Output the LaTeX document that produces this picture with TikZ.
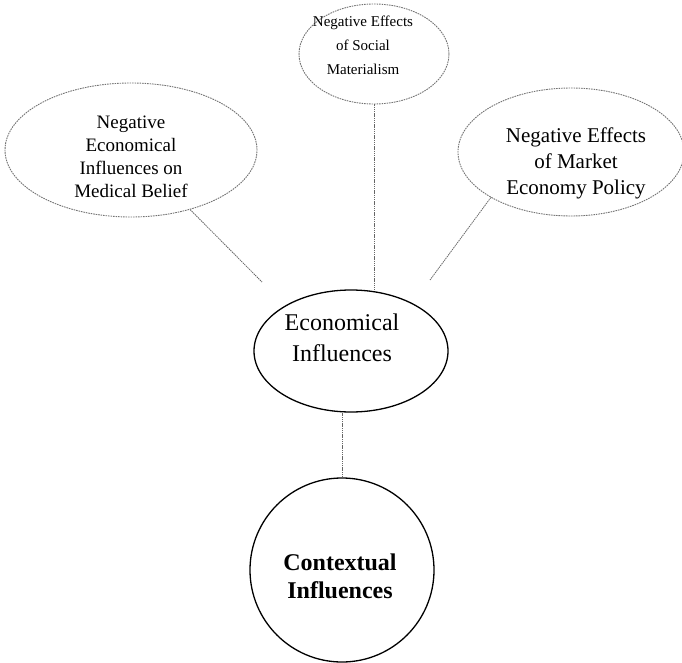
\documentclass[tikz,border=0pt]{standalone}
\usepackage{fontspec}
\setmainfont{Liberation Serif}
\usetikzlibrary{shapes.geometric}

\tikzset{
  x=1pt, y=-1pt,
  softoval/.style={ellipse, draw=black!55, line width=0.9pt,
    dash pattern=on 1.6pt off 0.9pt, inner sep=0pt},
  firmoval/.style={ellipse, draw=black, line width=1.3pt, inner sep=0pt},
  firmcircle/.style={circle, draw=black, line width=1.3pt, inner sep=0pt},
  label text/.style={align=center, inner sep=0pt, text=black},
  link/.style={draw=black!60, line width=0.8pt, dash pattern=on 1.4pt off 0.8pt},
}

\begin{document}
\begin{tikzpicture}
  \useasboundingbox (0,0) rectangle (682,663);

  % outer ring of influences
  \node[softoval, minimum width=252pt, minimum height=134pt] (medical) at (131,150) {};
  \node[softoval, minimum width=150pt, minimum height=100pt] (social) at (374,54) {};
  \node[softoval, minimum width=226pt, minimum height=128pt] (market) at (571,152) {};

  % central economical node and the contextual root
  \node[firmoval, minimum width=194pt, minimum height=122pt] (econ) at (351,351) {};
  \node[firmcircle, minimum size=184pt] (context) at (342,570) {};

  % labels
  \node[label text, font=\fontsize{19}{23}\selectfont] (medicalT) at (131,157)
    {Negative\\Economical\\Influences on\\Medical Belief};
  \node[label text, font=\fontsize{15}{24}\selectfont] (socialT) at (363,45)
    {Negative Effects\\of Social\\Materialism};
  \node[label text, font=\fontsize{21}{26}\selectfont] (marketT) at (576,163)
    {Negative Effects\\of Market\\Economy Policy};
  \node[label text, font=\fontsize{24}{31}\selectfont] (econT) at (342,338)
    {Economical\\Influences};
  \node[label text, font=\fontsize{24}{28}\selectfont\bfseries] (contextT) at (340,576)
    {Contextual\\Influences};

  % free ends of the two slanted connectors
  \coordinate (medicalEnd) at (262,282);
  \coordinate (marketEnd) at (430,280);

  % connectors
  \draw[link] (medical) -- (medicalEnd);
  \draw[link] (market.south west) -- (marketEnd);
  \draw[link] (social.south) -- (social.south |- econ.north);
  \draw[link] (context.north) -- (context.north |- econ.south);
\end{tikzpicture}
\end{document}
